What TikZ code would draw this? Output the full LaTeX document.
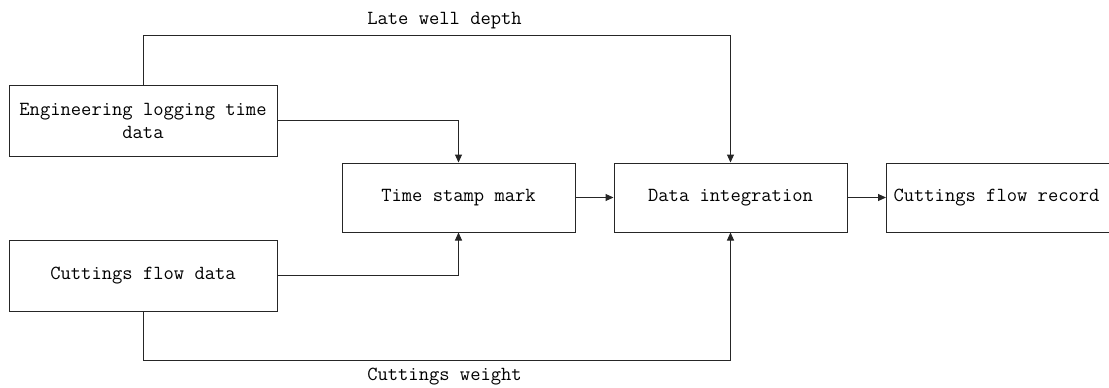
\documentclass[tikz,border=0pt]{standalone}
\usetikzlibrary{arrows.meta,positioning}
\begin{document}
\begin{tikzpicture}[x=1pt,y=-1pt,
  box/.style={draw=black!85, line width=1pt, rectangle, inner sep=0pt,
    align=center, font=\ttfamily\fontsize{20}{23}\selectfont},
  lbl/.style={inner sep=0pt, font=\ttfamily\fontsize{20}{23}\selectfont},
  conn/.style={draw=black!85, line width=1pt},
  arr/.style={conn, -{Triangle[length=8pt,width=7pt]}}]
\useasboundingbox (0,0) rectangle (1109,388);
\fill[white] (0,0) rectangle (1109,388);
\node[box, minimum width=268pt, minimum height=71pt] (A) at (143,120.5) {Engineering logging time\\data};
\node[box, minimum width=268pt, minimum height=71pt] (C) at (143,275.5) {Cuttings flow data};
\node[box, minimum width=233pt, minimum height=69pt] (T) at (458.5,197.5) {Time stamp mark};
\node[box, minimum width=233pt, minimum height=69pt] (D) at (730.5,197.5) {Data integration};
\node[box, anchor=west, minimum height=69pt, inner xsep=7pt] (R) at (886,197.5) {\makebox[236pt][l]{Cuttings flow record}};
\draw[arr] (A.north) |- ([yshift=127pt]D.north) -- (D.north);
\draw[arr] (C.south) |- ([yshift=-128pt]D.south) -- (D.south);
\draw[arr] (A.east) -| (T.north);
\draw[arr] (C.east) -| (T.south);
\draw[arr] (T.east) -- (D.west);
\draw[arr] (D.east) -- (R.west);
\node[lbl] (L1) at (444.5,21) {Late well depth};
\node[lbl] (L2) at (444.5,377) {Cuttings weight};
\end{tikzpicture}
\end{document}
